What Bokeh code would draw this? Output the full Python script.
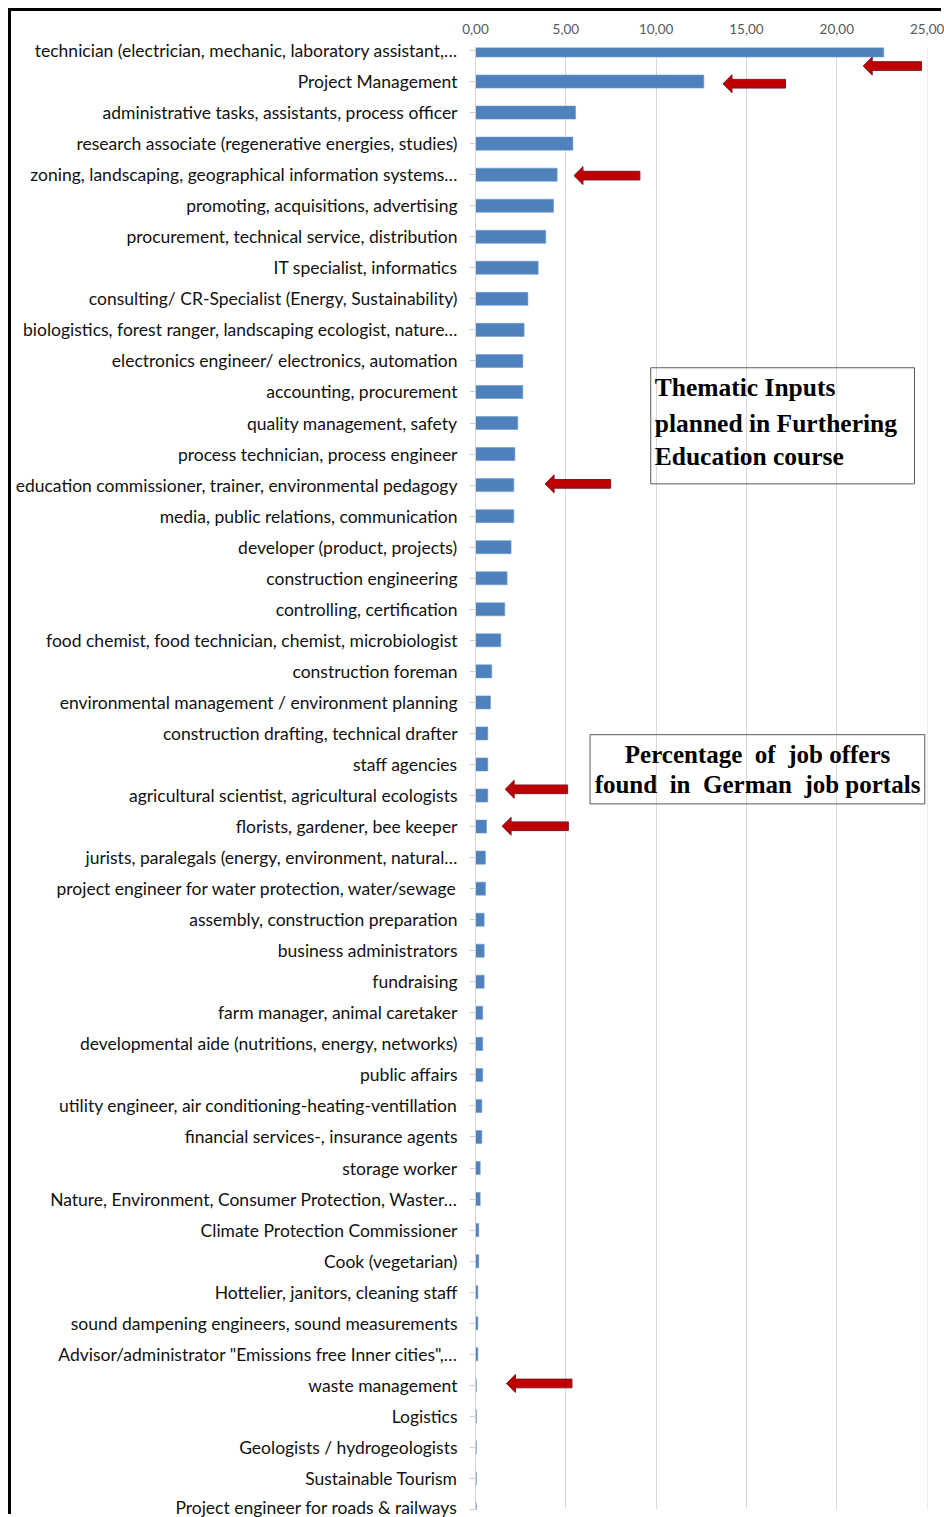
from bokeh.plotting import figure
from bokeh.models import ColumnDataSource, Range1d, FixedTicker
from bokeh.core.properties import value
from bokeh.embed import file_html
from bokeh.resources import INLINE

categories = [
    "technician (electrician, mechanic, laboratory assistant,\u2026",
    "Project Management",
    "administrative tasks, assistants, process officer",
    "research associate (regenerative energies, studies)",
    "zoning, landscaping, geographical information systems\u2026",
    "promoting, acquisitions, advertising",
    "procurement, technical service, distribution",
    "IT specialist, informatics",
    "consulting/ CR-Specialist (Energy, Sustainability)",
    "biologistics, forest ranger, landscaping ecologist, nature\u2026",
    "electronics engineer/ electronics, automation",
    "accounting, procurement",
    "quality management, safety",
    "process technician, process engineer",
    "education commissioner, trainer, environmental pedagogy",
    "media, public relations, communication",
    "developer (product, projects)",
    "construction engineering",
    "controlling, certification",
    "food chemist, food technician, chemist, microbiologist",
    "construction foreman",
    "environmental management / environment planning",
    "construction drafting, technical drafter",
    "staff agencies",
    "agricultural scientist, agricultural ecologists",
    "florists, gardener, bee keeper",
    "jurists, paralegals (energy, environment, natural\u2026",
    "project engineer for water protection, water/sewage",
    "assembly, construction preparation",
    "business administrators",
    "fundraising",
    "farm manager, animal caretaker",
    "developmental aide (nutritions, energy, networks)",
    "public affairs",
    "utility engineer, air conditioning-heating-ventillation",
    "financial services-, insurance agents",
    "storage worker",
    "Nature, Environment, Consumer Protection, Waster\u2026",
    "Climate Protection Commissioner",
    "Cook (vegetarian)",
    "Hottelier, janitors, cleaning staff",
    "sound dampening engineers, sound measurements",
    "Advisor/administrator \"Emissions free Inner cities\",\u2026",
    "waste management",
    "Logistics",
    "Geologists / hydrogeologists",
    "Sustainable Tourism",
    "Project engineer for roads & railways",
]

percent = [
    22.60, 12.64, 5.54, 5.39, 4.52, 4.32, 3.89, 3.47, 2.90, 2.69,
    2.62, 2.62, 2.34, 2.18, 2.12, 2.12, 1.97, 1.75, 1.62, 1.40,
    0.90, 0.83, 0.68, 0.68, 0.68, 0.61, 0.55, 0.55, 0.48, 0.48,
    0.48, 0.40, 0.40, 0.40, 0.35, 0.35, 0.26, 0.26, 0.18, 0.18,
    0.13, 0.13, 0.13, 0.05, 0.05, 0.05, 0.05, 0.05,
]

x_ticks = [0, 5, 10, 15, 20, 25]
x_tick_labels = ["0,00", "5,00", "10,00", "15,00", "20,00", "25,00"]

# highlighted rows (arrows): vertical position (row), arrow tip x, arrow tail x
arrow_rows = [0.5, 1.07, 4.03, 13.96, 23.8, 24.99, 42.94]
arrow_tip = [21.46, 13.70, 5.45, 3.85, 1.64, 1.47, 1.71]
arrow_tail = [24.69, 17.16, 9.10, 7.48, 5.10, 5.14, 5.34]

NB = "\u00a0"
box1_lines = ["Thematic Inputs", "planned in Furthering", "Education course"]
box2_lines = ["Percentage" + NB + NB + "of" + NB + NB + "job offers",
              "found" + NB + NB + "in" + NB + NB + "German" + NB + NB + "job portals"]

idx = list(range(len(categories)))
src = ColumnDataSource(dict(y=idx, right=percent, cat=categories))

p = figure(
    width=933, height=1506,
    x_range=Range1d(0, 25.02), y_range=Range1d(47.0, -0.097),
    x_axis_location="above",
    output_backend="svg", toolbar_location=None,
    min_border_left=464, min_border_right=17, min_border_top=36, min_border_bottom=8,
    styles={"margin-left": "11px", "margin-top": "11px",
            "box-shadow": "-3px -3px 0px 0px black"},
)
p.outline_line_color = None
p.background_fill_color = "white"
p.border_fill_color = "white"

p.hbar(y="y", right="right", left=0, height=0.42, source=src,
       fill_color="#4f81bd", line_color="#6f9bd0", line_width=0.6)

# x axis (top)
xa = p.xaxis[0]
xa.ticker = FixedTicker(ticks=x_ticks)
xa.major_label_overrides = {t: l for t, l in zip(x_ticks, x_tick_labels)}
xa.axis_line_color = None
xa.major_tick_line_color = None
xa.minor_tick_line_color = None
xa.major_tick_out = 0
xa.major_tick_in = 0
xa.major_label_standoff = 14
xa.major_label_text_font = "Lato"
xa.major_label_text_font_size = "13.5px"
xa.major_label_text_color = "#595959"

# y axis (categories)
ya = p.yaxis[0]
ya.ticker = FixedTicker(ticks=idx)
ya.major_label_overrides = {i: c for i, c in zip(idx, categories)}
ya.axis_line_color = "#d0d0d0"
ya.major_tick_line_color = "#d0d0d0"
ya.minor_tick_line_color = None
ya.major_tick_out = 6
ya.major_tick_in = 0
ya.major_label_standoff = 12
ya.major_label_text_font = "Lato"
ya.major_label_text_font_size = "17.5px"
ya.major_label_text_color = "#111111"

p.xgrid.grid_line_color = "#d9d9d9"
p.xgrid.ticker = FixedTicker(ticks=x_ticks)
p.ygrid.grid_line_color = None

# red arrows
shaft = 0.14
head = 0.29
head_len = 0.5
xs, ys = [], []
for yc, tip, tail in zip(arrow_rows, arrow_tip, arrow_tail):
    xs.append([tip, tip + head_len, tip + head_len, tail, tail, tip + head_len, tip + head_len])
    ys.append([yc, yc - head, yc - shaft, yc - shaft, yc + shaft, yc + shaft, yc + head])
p.patches(xs, ys, fill_color="#c00000", line_color="#7a1a2a", line_width=1)

# text boxes
p.quad(left=[9.70, 6.34], right=[24.30, 24.87], top=[10.22, 22.04], bottom=[13.96, 24.27],
       fill_color=None, line_color="#595959", line_width=1)
p.text(x=[9.92] * 3, y=[10.87, 12.00, 13.07], text=box1_lines,
       text_font=value("Liberation Serif"), text_font_style="bold",
       text_font_size="25.5px", text_color="black",
       text_align="left", text_baseline="alphabetic")
p.text(x=[15.61] * 2, y=[22.67, 23.64], text=box2_lines,
       text_font=value("Liberation Serif"), text_font_style="bold",
       text_font_size="25px", text_color="black",
       text_align="center", text_baseline="alphabetic")

open("out.html", "w").write(file_html(p, INLINE))
